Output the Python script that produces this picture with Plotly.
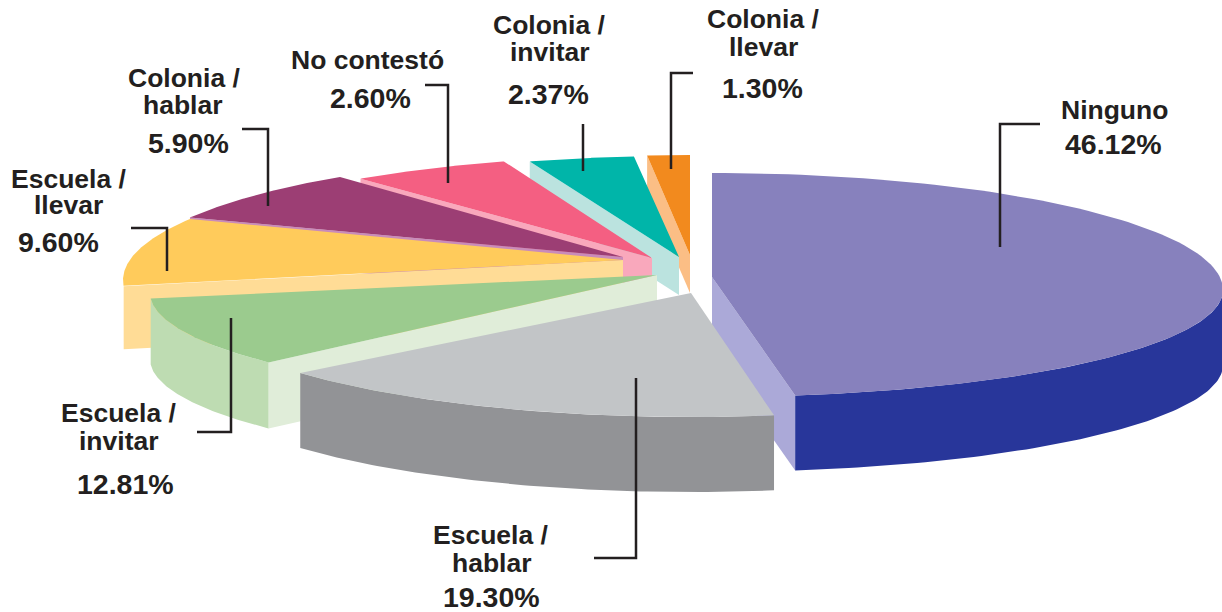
import numpy as np
import plotly.graph_objects as go

# ---- data ----
categories = ["Ninguno", "Escuela / hablar", "Escuela / invitar", "Escuela / llevar",
              "Colonia / hablar", "No contestó", "Colonia / invitar", "Colonia / llevar"]
values = [46.12, 19.30, 12.81, 9.60, 5.90, 2.60, 2.37, 1.30]

# ---- drawing style of the exploded perspective pie ----
top_colors = ["#8781BD", "#C2C5C7", "#9BCB8E", "#FFCB5B", "#9C3E74", "#F45F82", "#00B5A9", "#F28A1E"]
rim_colors = ["#28369A", "#929396", "#BEDCB2", None, None, None, None, None]
face_colors = ["#ABA9D8", None, "#E0EDD9", "#FFDC96", "#C98BBA", "#F9A8BC", "#BBE3DF", "#FBBE85"]
face_side = ["end", None, "start", "start", "start", "start", "start", "start"]
apex = [(712, 277), (691, 293), (657, 275), (623, 260), (623, 257), (652, 258), (679, 257), (690, 255)]
center = [(712, 290), (691, 294), (657, 293), (623, 280), (623, 280), (652, 285), (679, 285), (690, 285)]
radius_x = [511, 510, 507, 500, 500, 515, 519, 494]
radius_y_back = [117, 123, 108, 122, 125, 129, 129, 130]
radius_y_front = [107, 123, 108, 122, 125, 129, 129, 130]
depth = [75, 75, 66, 63, 40, 40, 38, 38]
# the source artwork's perspective shifts the slice boundaries a little (degrees)
boundary_shift = [0, 4.6, -5.5, -14.6, -16.2, -11.9, -3.5, -0.3, 0]
draw_order = [7, 6, 5, 4, 3, 2, 0, 1]

# ---- labels ----
label_text = ["Ninguno", "46.12%", "Escuela /", "hablar", "19.30%", "Escuela /", "invitar", "12.81%",
              "Escuela /", "llevar", "9.60%", "Colonia /", "hablar", "5.90%", "No contestó", "2.60%",
              "Colonia /", "invitar", "2.37%", "Colonia /", "llevar", "1.30%"]
label_x = [1114, 1113, 491, 492, 491, 119, 119, 125, 69, 68, 58, 184, 183, 188, 367, 370, 549, 550, 548, 763, 763, 762]
label_y = [110, 144, 535, 563, 597, 413, 441, 484, 179, 205, 242, 78, 105, 143, 60, 98, 25, 52, 94, 19, 47, 88]
leaders = [
    ([1040, 1000, 1000], [124, 124, 247]),
    ([594, 636, 636], [558, 558, 378]),
    ([197, 231, 231], [432, 432, 318]),
    ([131, 167, 167], [228, 228, 271]),
    ([242, 268, 268], [129, 129, 206]),
    ([425, 448, 448], [85, 85, 183]),
    ([583, 583], [124, 171]),
    ([693, 671, 671], [73, 73, 169]),
]

# ---- geometry derived from the values ----
edges = 3.6 * np.concatenate([[0], np.cumsum(values)]) + np.array(boundary_shift)


def rim(i, t):
    t = np.radians(t)
    c = np.cos(t)
    b = np.where(c >= 0, radius_y_back[i], radius_y_front[i])
    return center[i][0] + radius_x[i] * np.sin(t), center[i][1] - b * c


def poly(fig, xs, ys, color):
    fig.add_trace(go.Scatter(x=list(xs), y=list(ys), mode="lines", fill="toself", fillcolor=color,
                             line=dict(width=0, color=color), hoverinfo="skip", showlegend=False))


fig = go.Figure()
for i in draw_order:
    t0, t1 = edges[i], edges[i + 1]
    ax, ay = apex[i]
    d = depth[i]
    # cut face
    if face_side[i]:
        ex, ey = rim(i, t0 if face_side[i] == "start" else t1)
        poly(fig, [ax, ex, ex, ax], [ay, ey, ey + d, ay + d], face_colors[i])
    # outer wall (front half only)
    if rim_colors[i]:
        a = np.linspace(max(t0, 90), min(t1, 270), 80)
        rx, ry = rim(i, a)
        poly(fig, np.r_[rx, rx[::-1]], np.r_[ry, ry[::-1] + d], rim_colors[i])
    # top surface
    a = np.linspace(t0, t1, 120)
    rx, ry = rim(i, a)
    poly(fig, np.r_[ax, rx], np.r_[ay, ry], top_colors[i])

for lx, ly in leaders:
    fig.add_trace(go.Scatter(x=lx, y=ly, mode="lines", line=dict(color="#231F20", width=2.5),
                             hoverinfo="skip", showlegend=False))

for t, x, y in zip(label_text, label_x, label_y):
    fig.add_annotation(x=x, y=y, text=f"<b>{t}</b>", showarrow=False, xanchor="center", yanchor="middle",
                       font=dict(family="Liberation Sans", size=28.5 if "%" in t else 26.5, color="#231F20"))

fig.update_layout(
    width=1222, height=612, margin=dict(l=0, r=0, t=0, b=0),
    paper_bgcolor="white", plot_bgcolor="white", showlegend=False,
    xaxis=dict(range=[0, 1222], visible=False, fixedrange=True),
    yaxis=dict(range=[612, 0], visible=False, fixedrange=True),
)
fig.write_html("out.html", config={"displayModeBar": False},
               post_script="document.body.style.margin='0';document.body.style.overflow='hidden';")
